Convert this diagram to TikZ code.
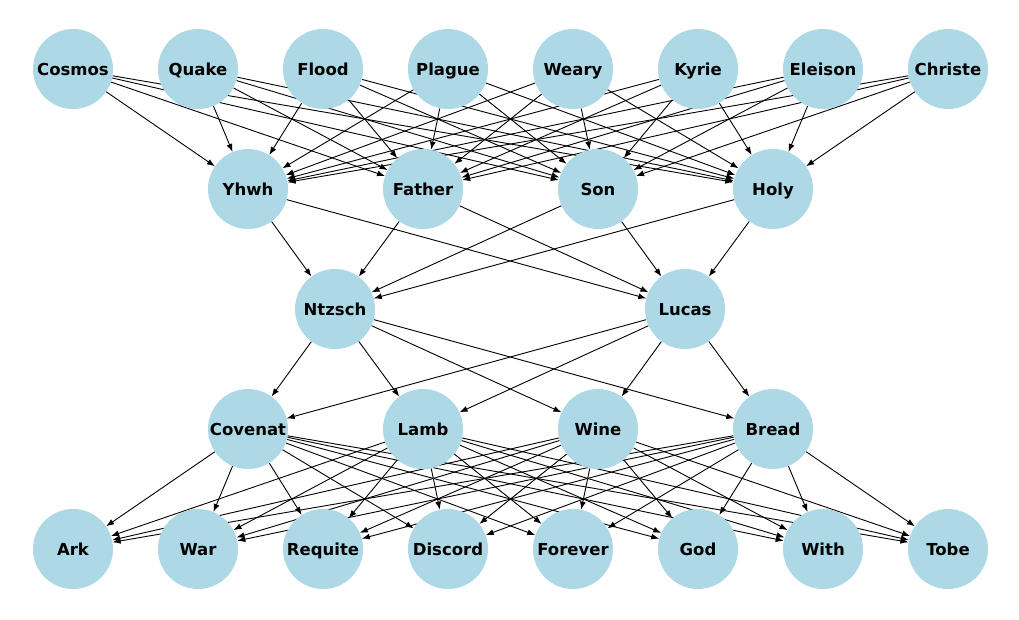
\documentclass[tikz,border=0pt]{standalone}
\usepackage{fontspec}
\setmainfont{DejaVu Sans}
\usetikzlibrary{arrows.meta}
\definecolor{nodeblue}{HTML}{ADD8E6}
\pgfdeclarelayer{bgl}
\pgfdeclarelayer{edgel}
\pgfsetlayers{bgl,edgel,main}
\begin{document}
\begin{tikzpicture}[x=1pt,y=-1pt,
  vtx/.style={circle,fill=nodeblue,minimum size=80pt,inner sep=0pt,text height=12pt,text depth=0pt,font=\fontsize{16.5}{19}\selectfont\bfseries},
  edge/.style={-{Latex[length=8pt,width=6pt]},line width=0.9pt,black}]
\useasboundingbox (0,0) rectangle (1019,619);
\begin{pgfonlayer}{bgl}
\fill[white] (0,0) rectangle (1019,619);
\end{pgfonlayer}
\foreach \n/\x in {Cosmos/73,Quake/198,Flood/323,Plague/448,Weary/573,Kyrie/698,Eleison/823,Christe/948}
  \node[vtx] (\n) at (\x,69) {\n};
\foreach \n/\x in {Yhwh/248,Father/423,Son/598,Holy/773}
  \node[vtx] (\n) at (\x,189) {\n};
\foreach \n/\x in {Ntzsch/335,Lucas/685}
  \node[vtx] (\n) at (\x,309) {\n};
\foreach \n/\x in {Covenat/248,Lamb/423,Wine/598,Bread/773}
  \node[vtx] (\n) at (\x,429) {\n};
\foreach \n/\x in {Ark/73,War/198,Requite/323,Discord/448,Forever/573,God/698,With/823,Tobe/948}
  \node[vtx] (\n) at (\x,549) {\n};
\begin{pgfonlayer}{edgel}
\foreach \a in {Cosmos,Quake,Flood,Plague,Weary,Kyrie,Eleison,Christe}
  \foreach \b in {Yhwh,Father,Son,Holy}
    \draw[edge] (\a) -- (\b);
\foreach \a in {Yhwh,Father,Son,Holy}
  \foreach \b in {Ntzsch,Lucas}
    \draw[edge] (\a) -- (\b);
\foreach \a in {Ntzsch,Lucas}
  \foreach \b in {Covenat,Lamb,Wine,Bread}
    \draw[edge] (\a) -- (\b);
\foreach \a in {Covenat,Lamb,Wine,Bread}
  \foreach \b in {Ark,War,Requite,Discord,Forever,God,With,Tobe}
    \draw[edge] (\a) -- (\b);
\end{pgfonlayer}
\end{tikzpicture}
\end{document}
